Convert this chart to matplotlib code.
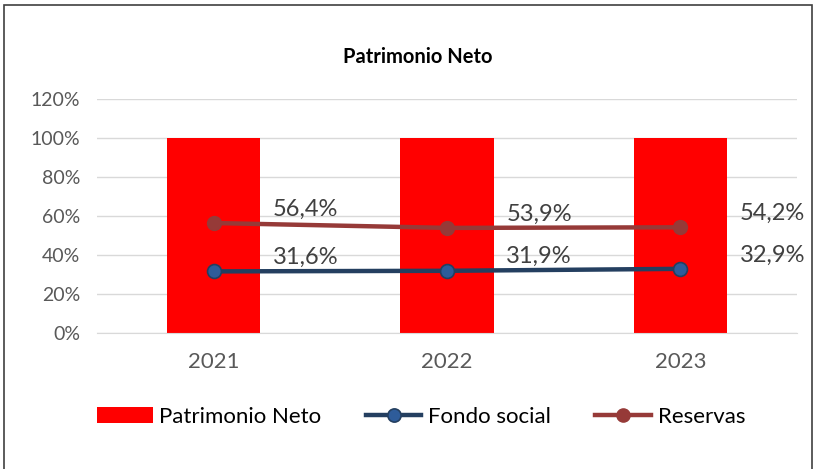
import matplotlib.pyplot as plt
from matplotlib.ticker import FuncFormatter
from matplotlib.patches import Rectangle

plt.rcParams['font.family'] = ['Lato', 'DejaVu Sans']

years = ['2021', '2022', '2023']
patrimonio = [1.0, 1.0, 1.0]
fondo_social = [0.316, 0.319, 0.329]
reservas = [0.564, 0.539, 0.542]

fig = plt.figure(figsize=(8.18, 4.69), dpi=100)
ax = fig.add_axes([97 / 818, 1 - 333 / 469, 700 / 818, 234 / 469])

x = range(len(years))
bars = ax.bar(x, patrimonio, width=0.4, color='#FF0000', label='Patrimonio Neto', zorder=2)
l1, = ax.plot(x, fondo_social, color='#243F60', lw=3.2, marker='o', ms=10,
              mfc='#2E5C9A', mec='#243F60', mew=1.2, label='Fondo social', zorder=3)
l2, = ax.plot(x, reservas, color='#963A38', lw=3.2, marker='o', ms=10,
              mfc='#963A38', mec='#963A38', label='Reservas', zorder=3)

def pct(v):
    return f'{v * 100:.1f}%'.replace('.', ',')

for i in x:
    for vals in (fondo_social, reservas):
        ax.annotate(pct(vals[i]), (i, vals[i]), xytext=(92, 14), textcoords='offset pixels',
                    ha='center', va='center', fontsize=17, color='#404040', zorder=4)

ax.set_xlim(-0.5, 2.5)
ax.set_ylim(0, 1.2)
ax.set_yticks([0, 0.2, 0.4, 0.6, 0.8, 1.0, 1.2])
ax.yaxis.set_major_formatter(FuncFormatter(lambda v, _: f'{v * 100:.0f}%'))
ax.set_xticks(list(x))
ax.set_xticklabels(years)
ax.grid(axis='y', color='#D9D9D9', lw=1, zorder=0)
ax.tick_params(axis='both', length=0, labelsize=14, colors='#595959')
ax.tick_params(axis='x', pad=14, labelsize=16)
ax.tick_params(axis='y', pad=12)
for s in ax.spines.values():
    s.set_visible(False)
ax.spines['bottom'].set_visible(True)
ax.spines['bottom'].set_color('#D9D9D9')

fig.text(418 / 818, 1 - 57 / 469, 'Patrimonio Neto', ha='center', va='center',
         fontsize=14.5, fontweight='bold', color='black')

fig.legend([bars, l1, l2], ['Patrimonio Neto', 'Fondo social', 'Reservas'],
           loc='center', bbox_to_anchor=(421 / 818, 1 - 417 / 469), ncol=3, frameon=False,
           fontsize=16, handlelength=2.5, columnspacing=2.0, handletextpad=0.3,
           markerscale=0.95)

fig.patches.append(Rectangle((4 / 818, -0.01), 808 / 818, 1 - 5 / 469 + 0.01,
                             transform=fig.transFigure, fill=False, ec='#404040', lw=1.2))

fig.savefig('out.png', dpi=100)
